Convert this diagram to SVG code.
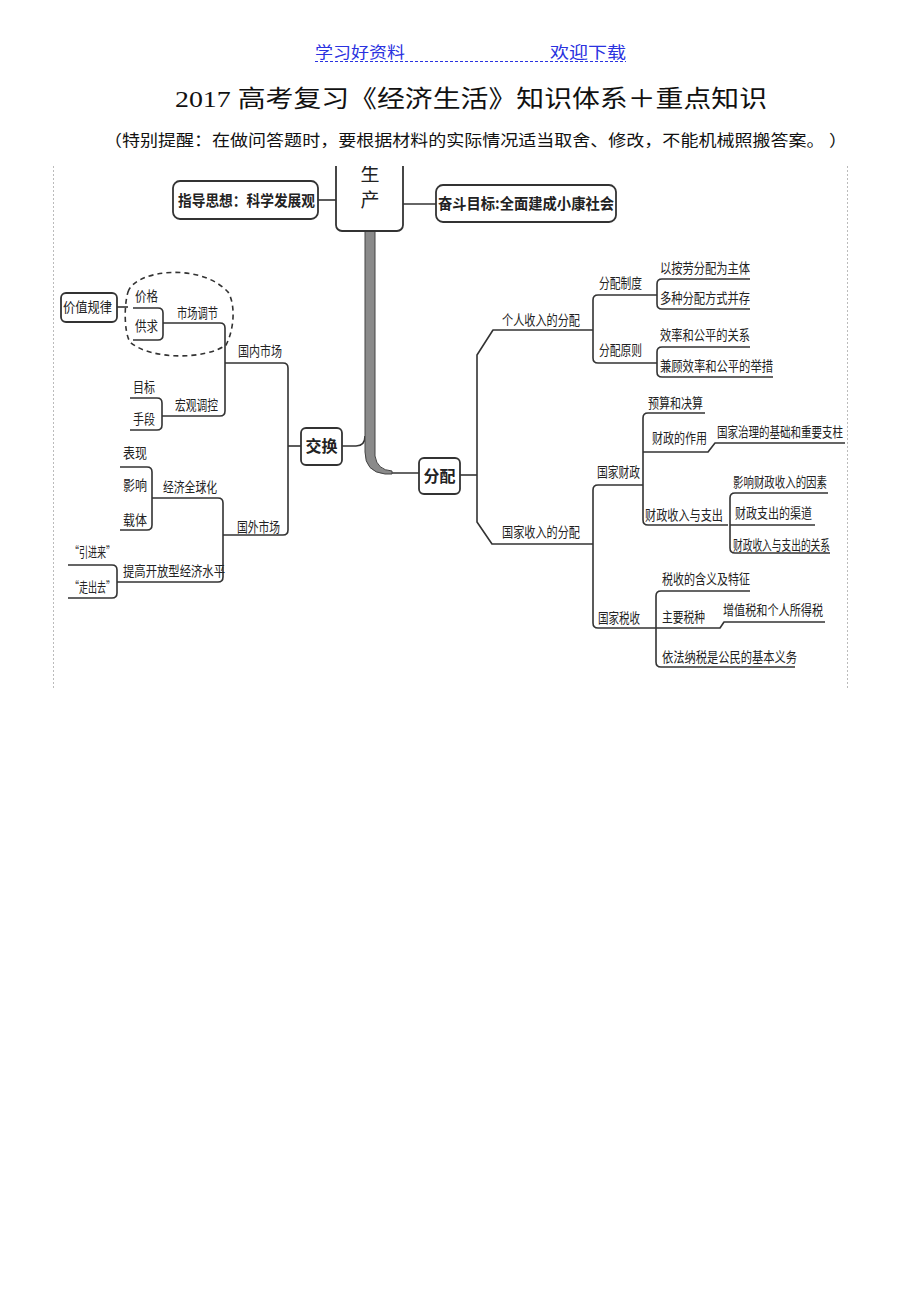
<svg xmlns="http://www.w3.org/2000/svg" width="920" height="1302" viewBox="0 0 920 1302">
<style>
.t{font-family:"Noto Sans CJK SC","Noto Sans",sans-serif;font-size:14px;fill:#222;}
.b{font-family:"Noto Sans CJK SC","Noto Sans",sans-serif;font-weight:bold;fill:#222;}
.c{fill:none;stroke:#333;stroke-width:1.6;stroke-linejoin:round;}
.box{fill:#fff;stroke:#333;stroke-width:1.8;}
.hd{font-family:"Liberation Serif","Noto Sans CJK SC",serif;font-size:16px;fill:#2a32e0;}
</style>
<defs>
<clipPath id="clip"><rect x="54" y="166" width="793" height="522"/></clipPath>
</defs>
<rect width="920" height="1302" fill="#fff"/>
<g id="header">
<text class="hd" x="315" y="58" textLength="90" lengthAdjust="spacingAndGlyphs">学习好资料</text>
<text class="hd" x="550" y="58" textLength="76" lengthAdjust="spacingAndGlyphs">欢迎下载</text>
<line x1="315" y1="61.5" x2="626" y2="61.5" stroke="#2a32e0" stroke-width="1" stroke-dasharray="3 2"/>
</g>
<g id="title">
<text x="175" y="107" font-family="Liberation Serif,'Noto Sans CJK SC',serif" font-size="24" fill="#111" textLength="592" lengthAdjust="spacingAndGlyphs">2017 高考复习《经济生活》知识体系＋重点知识</text>
<text x="104" y="146" font-family="Liberation Serif,'Noto Sans CJK SC',serif" font-size="16" fill="#111" textLength="743" lengthAdjust="spacingAndGlyphs">（特别提醒：在做问答题时，要根据材料的实际情况适当取舍、修改，不能机械照搬答案。 ）</text>
</g>
<g id="frame" stroke="#bbb" stroke-width="1" stroke-dasharray="2 2">
<line x1="53.5" y1="166" x2="53.5" y2="688"/>
<line x1="847.5" y1="166" x2="847.5" y2="688"/>
</g>
<g clip-path="url(#clip)">
<g id="connectors">
<path class="c" d="M318,200 H336"/>
<path class="c" d="M403,204 H436"/>
<path class="c" d="M342,446 H356 Q365,446 365,436"/>
<path class="c" d="M385,473 H419"/>
<path class="c" d="M301,446 H288"/>
<path class="c" d="M225,363 H283 Q288,363 288,368 V530 Q288,535 283,535 H223"/>
<path class="c" d="M163,323 H220 Q225,323 225,328 V411 Q225,416 220,416 H162"/>
<path class="c" d="M133,308 H158 Q163,308 163,313 V335 Q163,340 158,340 H133"/>
<path class="c" d="M130,398 H157 Q162,398 162,403 V425 Q162,430 157,430 H130"/>
<path class="c" d="M117,307 H128"/>
<path d="M128,292 C135,270 200,262 228,292 C236,305 234,330 226,345 C205,360 150,360 130,342 C124,332 124,305 128,292 Z" fill="none" stroke="#333" stroke-width="1.6" stroke-dasharray="5 4"/>
<path class="c" d="M152,498 H218 Q223,498 223,503 V577 Q223,582 218,582 H117"/>
<path class="c" d="M120,467 H147 Q152,467 152,472 V525 Q152,530 147,530 H120"/>
<path class="c" d="M68,565 H112 Q117,565 117,570 V593 Q117,598 112,598 H68"/>
<path class="c" d="M460,475 H477"/>
<path class="c" d="M593,330 H493 L477,355 V522 L492,544 H593"/>
<path class="c" d="M657,295 H598 Q593,295 593,300 V358 Q593,363 598,363 H657"/>
<path class="c" d="M750,279 H662 Q657,279 657,284 V304 Q657,309 662,309 H750"/>
<path class="c" d="M750,347 H662 Q657,347 657,352 V372 Q657,377 662,377 H773"/>
<path class="c" d="M643,485 H598 Q593,485 593,490 V623 Q593,628 598,628 H720 L724,622 H825"/>
<path class="c" d="M705,413 H648 Q643,413 643,418 V520 Q643,525 648,525 H728"/>
<path class="c" d="M643,452 H708 L715,443 H845"/>
<path class="c" d="M828,493 H735 Q730,493 730,498 V548 Q730,553 735,553 H830"/>
<path class="c" d="M730,525 H815"/>
<path class="c" d="M750,591 H661 Q656,591 656,596 V662 Q656,667 661,667 H795"/>
</g>
<g id="trunk">
<path d="M365,231 H375 V456 Q377,470 392,471 V474 H385 Q365,472 365,452 Z" fill="#8a8a8a" stroke="#444" stroke-width="1"/>
</g>
<g id="shengchan">
<rect class="box" x="336" y="140" width="67" height="91" rx="6"/>
<text class="t" x="370" y="181" text-anchor="middle" style="font-size:19px">生</text>
<text class="t" x="370" y="207" text-anchor="middle" style="font-size:19px">产</text>
</g>
<g id="zhidao">
<rect class="box" x="173" y="181" width="145" height="38" rx="7"/>
<text class="b" x="178" y="206" font-size="15" textLength="137" lengthAdjust="spacingAndGlyphs">指导思想：科学发展观</text>
</g>
<g id="fendou">
<rect class="box" x="436" y="185" width="180" height="37" rx="7"/>
<text class="b" x="438" y="209" font-size="15" textLength="176" lengthAdjust="spacingAndGlyphs">奋斗目标:全面建成小康社会</text>
</g>
<g id="jiaohuan">
<rect class="box" x="301" y="428" width="41" height="37" rx="5"/>
<text class="b" x="321.5" y="452" font-size="16" text-anchor="middle">交换</text>
</g>
<g id="fenpei">
<rect class="box" x="419" y="458" width="41" height="36" rx="5"/>
<text class="b" x="439.5" y="482" font-size="16" text-anchor="middle">分配</text>
</g>
<g id="jiazhiguilv">
<rect class="box" x="61" y="293" width="56" height="29" rx="5"/>
<text class="t" x="63" y="312" textLength="49" lengthAdjust="spacingAndGlyphs">价值规律</text>
</g>
<g id="left-labels">
<text class="t" x="135" y="301" textLength="23" lengthAdjust="spacingAndGlyphs">价格</text>
<text class="t" x="135" y="331" textLength="23" lengthAdjust="spacingAndGlyphs">供求</text>
<text class="t" x="177" y="318" textLength="41" lengthAdjust="spacingAndGlyphs">市场调节</text>
<text class="t" x="238" y="356" textLength="44" lengthAdjust="spacingAndGlyphs">国内市场</text>
<text class="t" x="133" y="392" textLength="22" lengthAdjust="spacingAndGlyphs">目标</text>
<text class="t" x="133" y="424" textLength="22" lengthAdjust="spacingAndGlyphs">手段</text>
<text class="t" x="175" y="410" textLength="43" lengthAdjust="spacingAndGlyphs">宏观调控</text>
<text class="t" x="123" y="458" textLength="24" lengthAdjust="spacingAndGlyphs">表现</text>
<text class="t" x="123" y="490" textLength="24" lengthAdjust="spacingAndGlyphs">影响</text>
<text class="t" x="123" y="525" textLength="24" lengthAdjust="spacingAndGlyphs">载体</text>
<text class="t" x="163" y="492" textLength="54" lengthAdjust="spacingAndGlyphs">经济全球化</text>
<text class="t" x="237" y="532" textLength="43" lengthAdjust="spacingAndGlyphs">国外市场</text>
<text class="t" x="70" y="557" textLength="45" lengthAdjust="spacingAndGlyphs">“引进来”</text>
<text class="t" x="70" y="592" textLength="45" lengthAdjust="spacingAndGlyphs">“走出去”</text>
<text class="t" x="123" y="576" textLength="102" lengthAdjust="spacingAndGlyphs">提高开放型经济水平</text>
</g>
<g id="right-labels">
<text class="t" x="502" y="325" textLength="78" lengthAdjust="spacingAndGlyphs">个人收入的分配</text>
<text class="t" x="599" y="288" textLength="43" lengthAdjust="spacingAndGlyphs">分配制度</text>
<text class="t" x="660" y="273" textLength="90" lengthAdjust="spacingAndGlyphs">以按劳分配为主体</text>
<text class="t" x="660" y="303" textLength="90" lengthAdjust="spacingAndGlyphs">多种分配方式并存</text>
<text class="t" x="599" y="355" textLength="43" lengthAdjust="spacingAndGlyphs">分配原则</text>
<text class="t" x="660" y="340" textLength="90" lengthAdjust="spacingAndGlyphs">效率和公平的关系</text>
<text class="t" x="660" y="371" textLength="113" lengthAdjust="spacingAndGlyphs">兼顾效率和公平的举措</text>
<text class="t" x="648" y="408" textLength="55" lengthAdjust="spacingAndGlyphs">预算和决算</text>
<text class="t" x="652" y="443" textLength="55" lengthAdjust="spacingAndGlyphs">财政的作用</text>
<text class="t" x="717" y="437" textLength="126" lengthAdjust="spacingAndGlyphs">国家治理的基础和重要支柱</text>
<text class="t" x="597" y="477" textLength="43" lengthAdjust="spacingAndGlyphs">国家财政</text>
<text class="t" x="733" y="487" textLength="94" lengthAdjust="spacingAndGlyphs">影响财政收入的因素</text>
<text class="t" x="735" y="518" textLength="77" lengthAdjust="spacingAndGlyphs">财政支出的渠道</text>
<text class="t" x="733" y="550" textLength="97" lengthAdjust="spacingAndGlyphs">财政收入与支出的关系</text>
<text class="t" x="645" y="520" textLength="78" lengthAdjust="spacingAndGlyphs">财政收入与支出</text>
<text class="t" x="502" y="537" textLength="78" lengthAdjust="spacingAndGlyphs">国家收入的分配</text>
<text class="t" x="662" y="584" textLength="88" lengthAdjust="spacingAndGlyphs">税收的含义及特征</text>
<text class="t" x="662" y="622" textLength="43" lengthAdjust="spacingAndGlyphs">主要税种</text>
<text class="t" x="723" y="615" textLength="100" lengthAdjust="spacingAndGlyphs">增值税和个人所得税</text>
<text class="t" x="598" y="623" textLength="42" lengthAdjust="spacingAndGlyphs">国家税收</text>
<text class="t" x="662" y="662" textLength="135" lengthAdjust="spacingAndGlyphs">依法纳税是公民的基本义务</text>
</g>
</g>
</svg>
